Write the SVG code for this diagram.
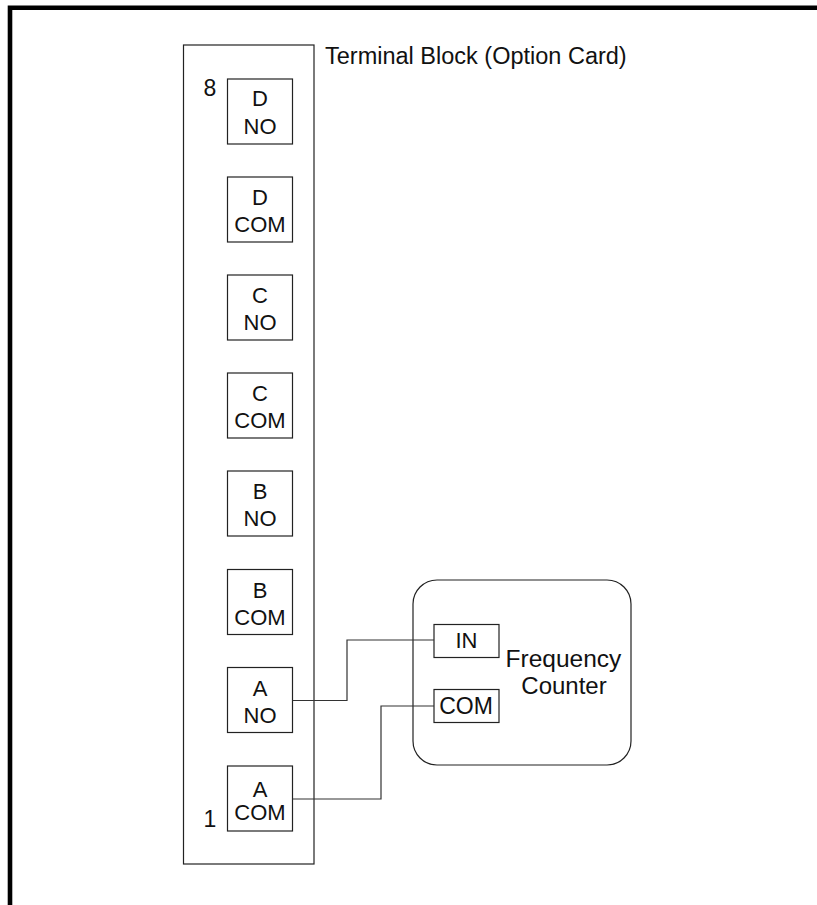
<svg xmlns="http://www.w3.org/2000/svg" width="817" height="905" viewBox="0 0 817 905">
<style>
.t{font-family:"Liberation Sans",Arial,sans-serif;font-size:22px;fill:#111;text-anchor:middle}
.s{fill:none;stroke:#222;stroke-width:1.2}
.w{fill:#fff;stroke:#222;stroke-width:1.2}
.c{fill:none;stroke:#333;stroke-width:1.2}
</style>
<rect width="817" height="905" fill="#fff"/>
<path d="M10,905 V7.7 H817" fill="none" stroke="#000" stroke-width="4.6"/>
<g id="terminal-block">
<rect class="s" x="183.5" y="45" width="130.5" height="819"/>
<text class="t" x="325" y="63.5" style="text-anchor:start;font-size:23.5px">Terminal Block (Option Card)</text>
<text class="t" x="210" y="95.5" style="font-size:23px">8</text>
<text class="t" x="210" y="827" style="font-size:23px">1</text>
</g>
<g id="t8"><rect class="w" x="227.5" y="79" width="65" height="65"/><text class="t" x="260" y="106">D</text><text class="t" x="260" y="133.5">NO</text></g>
<g id="t7"><rect class="w" x="227.5" y="177" width="65" height="65"/><text class="t" x="260" y="205">D</text><text class="t" x="260" y="232">COM</text></g>
<g id="t6"><rect class="w" x="227.5" y="275" width="65" height="65"/><text class="t" x="260" y="303">C</text><text class="t" x="260" y="330">NO</text></g>
<g id="t5"><rect class="w" x="227.5" y="373" width="65" height="65"/><text class="t" x="260" y="401">C</text><text class="t" x="260" y="428">COM</text></g>
<g id="t4"><rect class="w" x="227.5" y="471" width="65" height="65"/><text class="t" x="260" y="499">B</text><text class="t" x="260" y="526">NO</text></g>
<g id="t3"><rect class="w" x="227.5" y="569.5" width="65" height="65"/><text class="t" x="260" y="597.5">B</text><text class="t" x="260" y="624.5">COM</text></g>
<g id="t2"><rect class="w" x="227.5" y="667.5" width="65" height="65"/><text class="t" x="260" y="696">A</text><text class="t" x="260" y="722.5">NO</text></g>
<g id="t1"><rect class="w" x="227.5" y="766" width="65" height="65"/><text class="t" x="260" y="796.5">A</text><text class="t" x="260" y="820">COM</text></g>
<g id="frequency-counter">
<rect class="s" x="413" y="580" width="218" height="185" rx="24" ry="24"/>
<text class="t" x="563.5" y="667" style="font-size:24.5px">Frequency</text>
<text class="t" x="564" y="693.5" style="font-size:24px">Counter</text>
</g>
<g id="fc-in"><rect class="w" x="434" y="624.5" width="65" height="33"/><text class="t" x="466.5" y="647.5">IN</text></g>
<g id="fc-com"><rect class="w" x="434" y="689.5" width="65" height="33"/><text class="t" x="466" y="713.5" style="font-size:23px">COM</text></g>
<g id="connectors">
<path class="c" d="M292.5,700.5 H347 V640 H434"/>
<path class="c" d="M292.5,799 H381 V706 H434"/>
</g>
</svg>
